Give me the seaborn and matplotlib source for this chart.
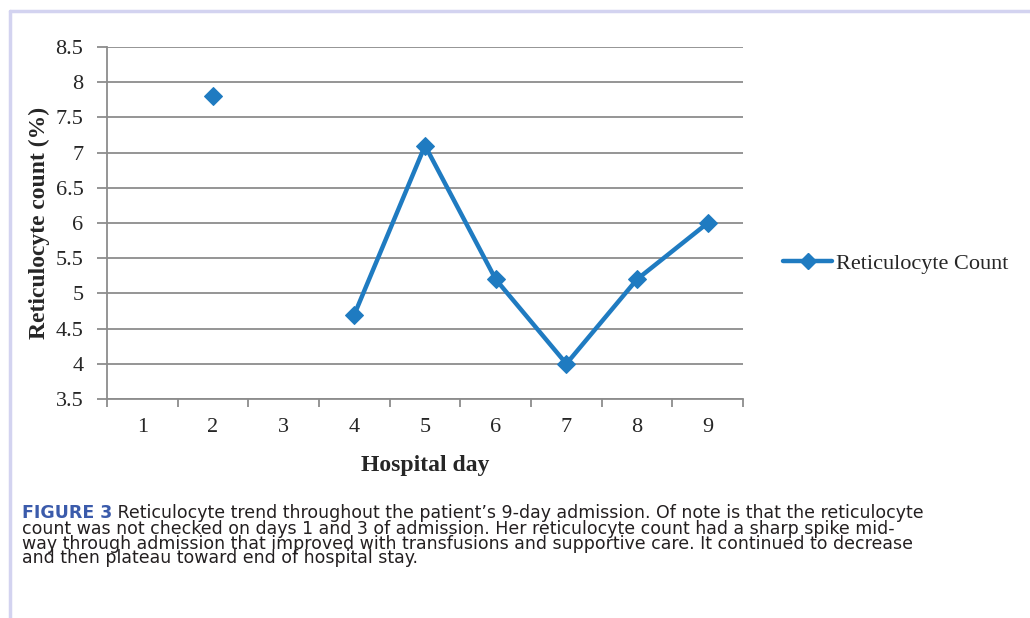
import matplotlib
matplotlib.use("Agg")
import matplotlib.pyplot as plt
import seaborn as sns
import pandas as pd
import numpy as np
from matplotlib.lines import Line2D

days = [1, 2, 3, 4, 5, 6, 7, 8, 9]
retic = [np.nan, 7.8, np.nan, 4.7, 7.1, 5.2, 4.0, 5.2, 6.0]
y_ticks = [3.5, 4, 4.5, 5, 5.5, 6, 6.5, 7, 7.5, 8, 8.5]
y_tick_labels = ["3.5", "4", "4.5", "5", "5.5", "6", "6.5", "7", "7.5", "8", "8.5"]

caption_lines = [
    "Reticulocyte trend throughout the patient\u2019s 9-day admission. Of note is that the reticulocyte",
    "count was not checked on days 1 and 3 of admission. Her reticulocyte count had a sharp spike mid-",
    "way through admission that improved with transfusions and supportive care. It continued to decrease",
    "and then plateau toward end of hospital stay.",
]

df = pd.DataFrame({"day": days, "retic": retic})
# break the line where a value is missing
df["segment"] = df["retic"].isna().cumsum()
df = df.dropna()

sns.set_style("white")
plt.rcParams["font.family"] = ["Liberation Serif", "DejaVu Serif"]

blue = "#1f7bc1"
grid_col = "#8c8c8c"

fig = plt.figure(figsize=(10.3, 6.18), dpi=100)
ax = fig.add_axes([0.1039, 0.3544, 0.6175, 0.5695])

sns.lineplot(data=df, x="day", y="retic", units="segment", estimator=None,
             color=blue, linewidth=3.2, marker="D", markersize=9,
             markeredgecolor=blue, legend=False, ax=ax)

ax.set_xlim(0.5, 9.5)
ax.set_ylim(3.5, 8.5)
ax.set_yticks(y_ticks)
ax.set_yticklabels(y_tick_labels)
ax.set_xticks(days)
ax.set_xticklabels([str(d) for d in days])
ax.set_xticks(np.arange(0.5, 10, 1), minor=True)

ax.grid(axis="y", color=grid_col, linewidth=1.3)
ax.set_axisbelow(True)
for s in ["top", "right"]:
    ax.spines[s].set_visible(False)
for s in ["left", "bottom"]:
    ax.spines[s].set_color(grid_col)
    ax.spines[s].set_linewidth(1.3)

ax.tick_params(axis="y", which="major", direction="out", length=7, width=1.3,
               color=grid_col, labelsize=16, pad=10, left=True)
ax.tick_params(axis="x", which="major", length=0, labelsize=16, pad=14)
ax.tick_params(axis="x", which="minor", direction="out", length=6, width=1.3,
               color=grid_col, bottom=True)

ax.set_xlabel("Hospital day", fontsize=17, fontweight="bold", labelpad=13)
ax.set_ylabel("Reticulocyte count (%)", fontsize=17, fontweight="bold", labelpad=4)

handle = Line2D([0], [0], color=blue, linewidth=3.2, marker="D", markersize=8)
fig.legend([handle], ["Reticulocyte Count"], loc="center left",
           bbox_to_anchor=(0.752, 0.573), frameon=False, fontsize=16,
           handlelength=2.2, handletextpad=0.15, borderaxespad=0)

# frame around the figure panel
fig.add_artist(Line2D([0.0097, 0.0097], [0.0, 0.982], color="#d3d3f0", linewidth=2.5))
fig.add_artist(Line2D([0.0097, 1.0], [0.982, 0.982], color="#d3d3f0", linewidth=2.5))

# caption: bold blue label, then the text in tight lines
cap_font = ["Liberation Sans Narrow", "DejaVu Sans"]
cap_size = 12.5
y0 = 1 - 518 / 618
t = fig.text(0.0214, y0, "FIGURE 3", fontsize=cap_size, fontweight="bold",
             color="#3b5bab", family=cap_font, va="baseline")
ax.annotate(" " + caption_lines[0], xy=(1, 0), xycoords=t, va="bottom",
            fontsize=cap_size, color="#231f20", family=cap_font)
fig.text(0.0214, 1 - 520 / 618, "\n".join(caption_lines[1:]), fontsize=cap_size,
         color="#231f20", family=cap_font, va="top", linespacing=0.76)

fig.savefig("out.png", dpi=100)
